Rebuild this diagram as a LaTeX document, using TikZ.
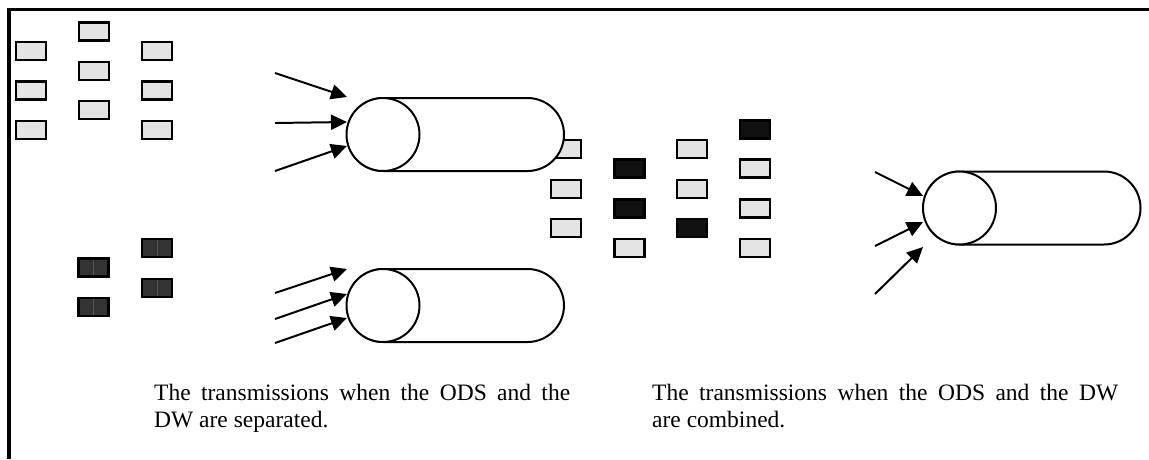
\documentclass[tikz,border=0pt]{standalone}
\usepackage{fontspec}
\setmainfont{Liberation Serif}
\usetikzlibrary{shapes.misc,arrows.meta}
\definecolor{lightbox}{HTML}{E4E4E4}
\definecolor{darkbox}{HTML}{333333}
\definecolor{blackbox}{HTML}{111111}
\tikzset{
  pkt/.style={draw=black, line width=2.7pt, minimum width=30pt, minimum height=18pt, inner sep=0pt},
  lpkt/.style={pkt, fill=lightbox},
  dpkt/.style={pkt, fill=darkbox, path picture={\draw[line width=1pt, black!65] (path picture bounding box.north) -- (path picture bounding box.south);}},
  bpkt/.style={pkt, fill=blackbox},
  capsule/.style={rounded rectangle, draw=black, fill=white, line width=2pt, minimum width=217pt, minimum height=73pt, inner sep=0pt},
  endcircle/.style={circle, draw=black, fill=white, line width=2pt, minimum size=73pt, inner sep=0pt},
  arr/.style={line width=2pt, -{Triangle[length=16pt,width=15pt]}},
  caption/.style={inner sep=0pt, anchor=north west, align=justify, font=\fontsize{23.5}{27}\selectfont}
}
\begin{document}
\begin{tikzpicture}[x=1pt,y=-1pt]
\useasboundingbox (0,0) rectangle (1149,459);
% frame
\draw[line width=3.5pt] (1149,9.5) -- (9,9.5) -- (9,459);
% left cluster of light packets
\node[lpkt] (p11) at (31,51) {};
\node[lpkt] (p12) at (31,90.5) {};
\node[lpkt] (p13) at (31,130) {};
\node[lpkt] (p21) at (94,31.5) {};
\node[lpkt] (p22) at (94,71) {};
\node[lpkt] (p23) at (94,110) {};
\node[lpkt] (p31) at (157,51) {};
\node[lpkt] (p32) at (157,90.5) {};
\node[lpkt] (p33) at (157,130) {};
% left cluster of dark packets
\node[dpkt] (d21) at (93.5,267.5) {};
\node[dpkt] (d22) at (93.5,307) {};
\node[dpkt] (d31) at (157,248) {};
\node[dpkt] (d32) at (157,288) {};
% mixed cluster
\node[lpkt] (a1) at (566,149) {};
\node[lpkt] (a2) at (566,189) {};
\node[lpkt] (a3) at (566,228) {};
\node[bpkt] (b1) at (629.5,168.5) {};
\node[bpkt] (b2) at (629.5,208.5) {};
\node[lpkt] (b3) at (629.5,248) {};
\node[lpkt] (c1p) at (692,149) {};
\node[lpkt] (c2p) at (692,189) {};
\node[bpkt] (c3p) at (692,228) {};
\node[bpkt] (e1p) at (755,129.5) {};
\node[lpkt] (e2p) at (755,168.5) {};
\node[lpkt] (e3p) at (755,208.5) {};
\node[lpkt] (e4p) at (755,248) {};
% cylinders
\node[capsule] (cy1) at (455.5,134.5) {};
\node[endcircle] (ci1) at (383,134.5) {};
\node[capsule] (cy2) at (455.5,305.5) {};
\node[endcircle] (ci2) at (383,305.5) {};
\node[capsule] (cy3) at (1032,208) {};
\node[endcircle] (ci3) at (959.5,208) {};
% arrow end points
\coordinate (s11) at (275,73);  \coordinate (t11) at (347,97);
\coordinate (s12) at (275,123); \coordinate (t12) at (347,122);
\coordinate (s13) at (275,171); \coordinate (t13) at (347,146);
\coordinate (s21) at (275,293); \coordinate (t21) at (347,269);
\coordinate (s22) at (275,319); \coordinate (t22) at (347,294);
\coordinate (s23) at (275,343); \coordinate (t23) at (347,318);
\coordinate (s31) at (875,172); \coordinate (t31) at (923,196);
\coordinate (s32) at (875,246); \coordinate (t32) at (923,222);
\coordinate (s33) at (875,294); \coordinate (t33) at (923,247);
\draw[arr] (s11) -- (t11);
\draw[arr] (s12) -- (t12);
\draw[arr] (s13) -- (t13);
\draw[arr] (s21) -- (t21);
\draw[arr] (s22) -- (t22);
\draw[arr] (s23) -- (t23);
\draw[arr] (s31) -- (t31);
\draw[arr] (s32) -- (t32);
\draw[arr] (s33) -- (t33);
% captions
\node[caption, text width=416pt] (cap1) at (154,384) {The transmissions when the ODS and the\linebreak DW are separated.};
\node[caption, text width=466pt] (cap2) at (652,384) {The transmissions when the ODS and the DW\linebreak are combined.};
\end{tikzpicture}
\end{document}
